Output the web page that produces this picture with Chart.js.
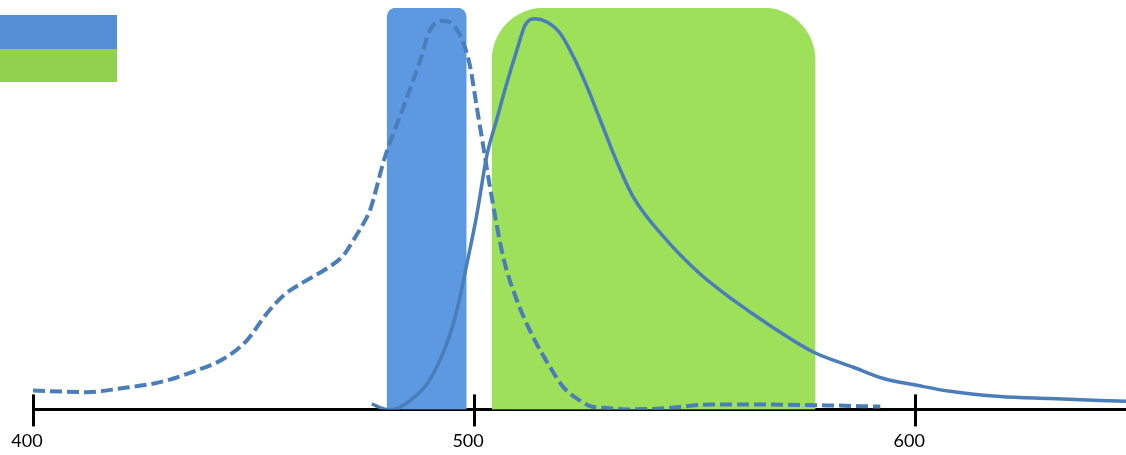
<!DOCTYPE html>
<html>
<head>
<meta charset="utf-8">
<script src="https://cdn.jsdelivr.net/npm/chart.js@4.4.1/dist/chart.umd.min.js"></script>
<style>
  html, body { margin: 0; padding: 0; background: #fff; }
  .chart { position: relative; width: 1126px; height: 455px; }
  .legend { position: absolute; left: 0; top: 15px; }
  .legend div { width: 117px; height: 33.5px; }
</style>
</head>
<body>
<div class="chart">
  <canvas id="c" width="1126" height="455"></canvas>
  <div class="legend"></div>
</div>
<script>
// wavelength (nm) / relative intensity
const dashedX = [400, 412.2, 419.7, 428.8, 437.1, 443.2, 448.5, 453.0, 456.8, 461.3, 466.6, 470.4, 472.6, 475.3, 476.4, 479.8, 484.0, 487.8, 490.0, 492.7, 495.3, 497.6, 499.1, 500.6, 502.1, 503.6, 506.6, 509.7, 513.4, 517.2, 520.2, 524.0, 527.0, 529.3, 534.6, 542.2, 553.5, 564.9, 580.0, 592.1];
const dashedY = [4.7, 4.3, 5.2, 6.8, 9.7, 12.6, 17.2, 23.9, 28.4, 31.7, 35.1, 38.4, 42.1, 47.1, 49.6, 62.9, 75.4, 87.0, 94.5, 96.8, 95.8, 91.2, 85.4, 75.4, 65.4, 55.4, 38.0, 27.2, 18.0, 10.6, 5.6, 2.2, 0.6, 0.4, 0, 0.2, 1.2, 1.2, 1.0, 0.7];

const solidX = [476.8, 480.2, 481.6, 485.5, 489.6, 493.8, 496.1, 498.3, 500.6, 502.9, 505.1, 507.4, 509.7, 511.6, 513.8, 516.5, 519.5, 522.5, 525.6, 528.6, 532.4, 536.1, 543.7, 551.2, 558.8, 566.4, 576.9, 586.0, 592.8, 600.4, 607.9, 619.3, 630.6, 647.8];
const solidY = [1.4, 0, 0, 2.2, 6.8, 16.4, 24.7, 35.9, 48.4, 63.3, 72.1, 81.2, 89.5, 95.8, 97.3, 96.5, 93.7, 87.9, 80.4, 72.1, 61.6, 52.9, 42.1, 33.8, 27.2, 21.4, 14.3, 10.5, 7.7, 6.0, 4.5, 3.2, 2.7, 2.0];

// filter pass bands (nm)
const blueBand = [480.3, 498.2];
const greenBand = [504.1, 577.3];

const xTicks = [400, 500, 600];
const legendColors = ["#558ed5", "#92d050"];

const toPoints = (xs, ys) => xs.map((x, i) => ({x: x, y: ys[i]}));

const tickMarks = {
    id: "tickMarks",
    afterDraw: (chart) => {
        let scale = chart.scales.x;
        let ctx = chart.ctx;
        let base = chart.chartArea.bottom;
        ctx.save();
        ctx.strokeStyle = "#000";
        ctx.lineWidth = 3;
        scale.ticks.forEach((tick) => {
            let px = Math.round(scale.getPixelForValue(tick.value)) + 0.5;
            ctx.beginPath();
            ctx.moveTo(px, base - 15);
            ctx.lineTo(px, base + 17);
            ctx.stroke();
        });
        ctx.restore();
    }
};

let legend = document.querySelector(".legend");
legendColors.forEach((color) => {
    let box = document.createElement("div");
    box.style.background = color;
    legend.appendChild(box);
});

new Chart(document.getElementById("c"), {
    type: "line",
    data: {
        labels: ["band"],
        datasets: [
            {
                type: "line",
                label: "dashed",
                data: toPoints(dashedX, dashedY),
                xAxisID: "x",
                yAxisID: "yv",
                borderColor: "#4a7ebb",
                borderWidth: 4,
                borderDash: [12, 5],
                pointRadius: 0,
                fill: false,
                cubicInterpolationMode: "monotone",
                order: 1
            },
            {
                type: "line",
                label: "solid",
                data: toPoints(solidX, solidY),
                xAxisID: "x",
                yAxisID: "yv",
                borderColor: "#4a7ebb",
                borderWidth: 3.5,
                pointRadius: 0,
                fill: false,
                cubicInterpolationMode: "monotone",
                order: 1
            },
            {
                type: "bar",
                label: "blue",
                indexAxis: "y",
                xAxisID: "x",
                yAxisID: "yc",
                data: [blueBand],
                backgroundColor: "#5d99e0",
                borderRadius: {topLeft: 9, topRight: 9, bottomLeft: 0, bottomRight: 0},
                borderSkipped: false,
                grouped: false,
                barPercentage: 1,
                categoryPercentage: 1,
                order: 2
            },
            {
                type: "bar",
                label: "green",
                indexAxis: "y",
                xAxisID: "x",
                yAxisID: "yc",
                data: [greenBand],
                backgroundColor: "#9ee05a",
                borderRadius: {topLeft: 52, topRight: 52, bottomLeft: 0, bottomRight: 0},
                borderSkipped: false,
                grouped: false,
                barPercentage: 1,
                categoryPercentage: 1,
                order: 2
            }
        ]
    },
    options: {
        responsive: false,
        animation: false,
        devicePixelRatio: 1,
        layout: {
            padding: {left: 33, top: 8, right: 0, bottom: -18}
        },
        plugins: {
            legend: {display: false},
            tooltip: {enabled: false}
        },
        scales: {
            x: {
                type: "linear",
                position: "bottom",
                min: 400,
                max: 647.8,
                z: 1,
                afterBuildTicks: (scale) => {
                    scale.ticks = xTicks.map((v) => ({value: v}));
                },
                afterFit: (scale) => {
                    scale.paddingLeft = 0;
                    scale.paddingRight = 0;
                },
                grid: {display: true, drawOnChartArea: false, drawTicks: false},
                border: {display: true, color: "#000", width: 3},
                ticks: {
                    color: "#000",
                    font: {family: "Lato", size: 18},
                    padding: 21,
                    labelOffset: -6,
                    maxRotation: 0
                }
            },
            yv: {
                type: "linear",
                axis: "y",
                display: false,
                min: 0,
                max: 100
            },
            yc: {
                type: "category",
                axis: "y",
                labels: ["band"],
                offset: true,
                display: false
            }
        }
    },
    plugins: [tickMarks]
});
</script>
</body>
</html>
